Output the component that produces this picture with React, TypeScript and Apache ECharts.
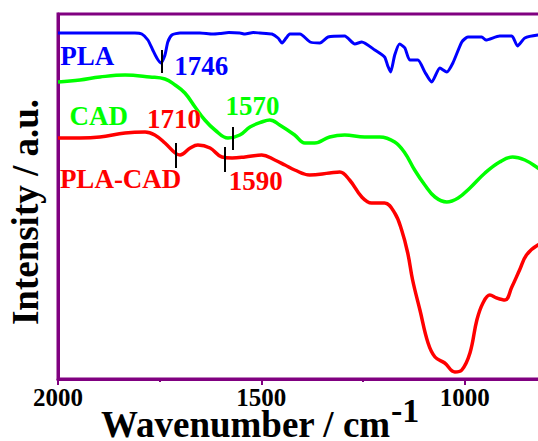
import React, { useEffect, useRef } from "react";
import * as echarts from "echarts";

// Wavenumber (cm-1) / intensity (a.u., arbitrary offset units)
const plaWave = [2000, 1946, 1897, 1848, 1811, 1794, 1779, 1767, 1757, 1747, 1737, 1730, 1720, 1700, 1651, 1620, 1602, 1580, 1553, 1540, 1520, 1504, 1474, 1459, 1449, 1439, 1430, 1405, 1380, 1356, 1336, 1295, 1270, 1253, 1221, 1197, 1189, 1182, 1172, 1160, 1147, 1135, 1115, 1098, 1081, 1061, 1044, 1029, 1007, 992, 958, 948, 914, 884, 870, 852, 820, 780];
const plaInt = [346, 346, 346, 346, 346, 345, 339, 329, 321, 316, 324, 337, 344, 346, 346, 345, 345.5, 346.5, 346, 345, 346.5, 346, 345, 341, 336, 341, 345, 345, 337, 336, 342, 343, 335, 337, 329, 322, 313, 307, 324, 335, 331, 319, 319, 307, 297, 311, 307, 316, 337, 342, 342, 339, 343, 343, 333, 341, 344, 345];

const cadWave = [2000, 1946, 1897, 1835, 1774, 1737, 1712, 1688, 1663, 1639, 1614, 1582, 1553, 1528, 1499, 1479, 1455, 1418, 1393, 1369, 1332, 1295, 1246, 1209, 1172, 1147, 1123, 1098, 1073, 1044, 1016, 987, 950, 914, 882, 852, 820, 780];
const cadInt = [297, 299, 302, 304, 302, 300, 294, 286, 272, 259, 249, 241, 244, 252, 257, 259, 254, 244, 236, 236, 242, 244, 242, 242, 237, 226, 209, 194, 182, 177, 181, 191, 206, 217, 222, 219, 211, 200];

const mixWave = [2000, 1946, 1897, 1835, 1786, 1762, 1737, 1712, 1700, 1675, 1656, 1626, 1597, 1572, 1540, 1499, 1467, 1442, 1418, 1381, 1332, 1307, 1283, 1253, 1229, 1197, 1172, 1155, 1140, 1128, 1110, 1090, 1073, 1049, 1024, 1007, 987, 970, 955, 938, 921, 901, 884, 865, 848, 820, 780];
const mixInt = [241, 241, 242, 246, 247, 244, 236, 226, 224, 231, 234, 231, 222, 221, 222, 224, 219, 214, 209, 204, 206, 207, 199, 182, 176, 176, 166, 149, 126, 99, 69, 36, 22, 16, 7, 9, 26, 59, 76, 84, 81, 79, 92, 109, 124, 134, 140];

const xTicks = [2000, 1500, 1000];

// peak markers: [wavenumber, low, high]
const plaMarks = [[1746, 306, 329]];
const cadMarks = [[1570, 229, 252]];
const mixMarks = [[1710, 211, 236], [1590, 207, 232]];

// text labels: [text, wavenumber, intensity]
const plaLabels: [string, number, number][] = [["PLA", 1928, 323], ["1746", 1648, 313]];
const cadLabels: [string, number, number][] = [["CAD", 1900, 263], ["1570", 1522, 273]];
const mixLabels: [string, number, number][] = [["1710", 1715, 260], ["PLA-CAD", 1846, 200], ["1590", 1514, 198]];

const PURPLE = "#800080";
const FONT = "'Liberation Serif', 'Times New Roman', serif";

function pairs(w: number[], v: number[]) {
  return w.map((x, i) => [x, v[i]]);
}

function markLines(marks: number[][]) {
  return {
    silent: true,
    symbol: "none",
    label: { show: false },
    lineStyle: { color: "#000", width: 2, type: "solid" },
    data: marks.map((m) => [{ coord: [m[0], m[1]] }, { coord: [m[0], m[2]] }]),
  };
}

function markPoints(labels: [string, number, number][], color: string) {
  return {
    silent: true,
    symbol: "circle",
    symbolSize: 0,
    data: labels.map((l) => ({
      coord: [l[1], l[2]],
      label: {
        show: true,
        position: "inside",
        formatter: l[0],
        color,
        fontSize: 27,
        fontWeight: "bold",
        fontFamily: FONT,
      },
    })),
  };
}

export default function App() {
  const ref = useRef<HTMLDivElement>(null);
  useEffect(() => {
    if (!ref.current) return;
    const chart = echarts.init(ref.current, null, { renderer: "svg" });
    const lineSeries = (name: string, w: number[], v: number[], color: string, width: number, smooth: number, marks: number[][], labels: [string, number, number][]) => ({
      name,
      type: "line",
      data: pairs(w, v),
      showSymbol: false,
      smooth,
      lineStyle: { color, width },
      itemStyle: { color },
      markLine: markLines(marks),
      markPoint: markPoints(labels, color),
      z: 3,
    });
    chart.setOption({
      animation: false,
      backgroundColor: "#fff",
      grid: {
        left: 58,
        top: 14,
        bottom: 62,
        right: 32,
        show: true,
        borderColor: PURPLE,
        borderWidth: 3,
        containLabel: false,
      },
      xAxis: {
        type: "value",
        min: 500,
        max: 2000,
        interval: 500,
        inverse: true,
        axisLine: { show: true, onZero: false, lineStyle: { color: PURPLE, width: 3 } },
        axisTick: { show: true, length: 6, lineStyle: { color: PURPLE, width: 2 } },
        minorTick: { show: true, splitNumber: 2, length: 3, lineStyle: { color: PURPLE, width: 2 } },
        splitLine: { show: false },
        axisLabel: {
          color: "#000",
          fontSize: 25,
          fontWeight: "bold",
          fontFamily: FONT,
          margin: 8,
          lineHeight: 20,
          formatter: (val: number) => (xTicks.indexOf(val) >= 0 ? String(val) : ""),
        },
      },
      yAxis: {
        type: "value",
        min: 0,
        max: 365,
        axisLine: { show: true, lineStyle: { color: PURPLE, width: 3 } },
        axisTick: { show: false },
        axisLabel: { show: false },
        splitLine: { show: false },
      },
      series: [
        lineSeries("PLA", plaWave, plaInt, "#0000ff", 3, 0.2, plaMarks, plaLabels),
        lineSeries("CAD", cadWave, cadInt, "#00ff00", 3.5, 0.4, cadMarks, cadLabels),
        lineSeries("PLA-CAD", mixWave, mixInt, "#ff0000", 3.5, 0.4, mixMarks, mixLabels),
      ],
      graphic: [
        {
          type: "text",
          x: 25,
          y: 212,
          rotation: Math.PI / 2,
          style: {
            text: "Intensity / a.u.",
            fontSize: 37,
            fontWeight: "bold",
            fontFamily: FONT,
            fill: "#000",
            textAlign: "center",
            textVerticalAlign: "middle",
          },
        },
        {
          type: "text",
          x: 101,
          y: 424,
          style: {
            text: "Wavenumber / cm",
            fontSize: 37,
            lineHeight: 26,
            fontWeight: "bold",
            fontFamily: FONT,
            fill: "#000",
            textAlign: "left",
            textVerticalAlign: "middle",
          },
        },
        {
          type: "text",
          x: 391,
          y: 410,
          style: {
            text: "-1",
            fontSize: 34,
            lineHeight: 22,
            fontWeight: "bold",
            fontFamily: FONT,
            fill: "#000",
            textAlign: "left",
            textVerticalAlign: "middle",
          },
        },
      ],
    });
    return () => chart.dispose();
  }, []);
  return <div ref={ref} style={{ position: "fixed", left: 0, top: 0, width: 700, height: 441 }} />;
}
